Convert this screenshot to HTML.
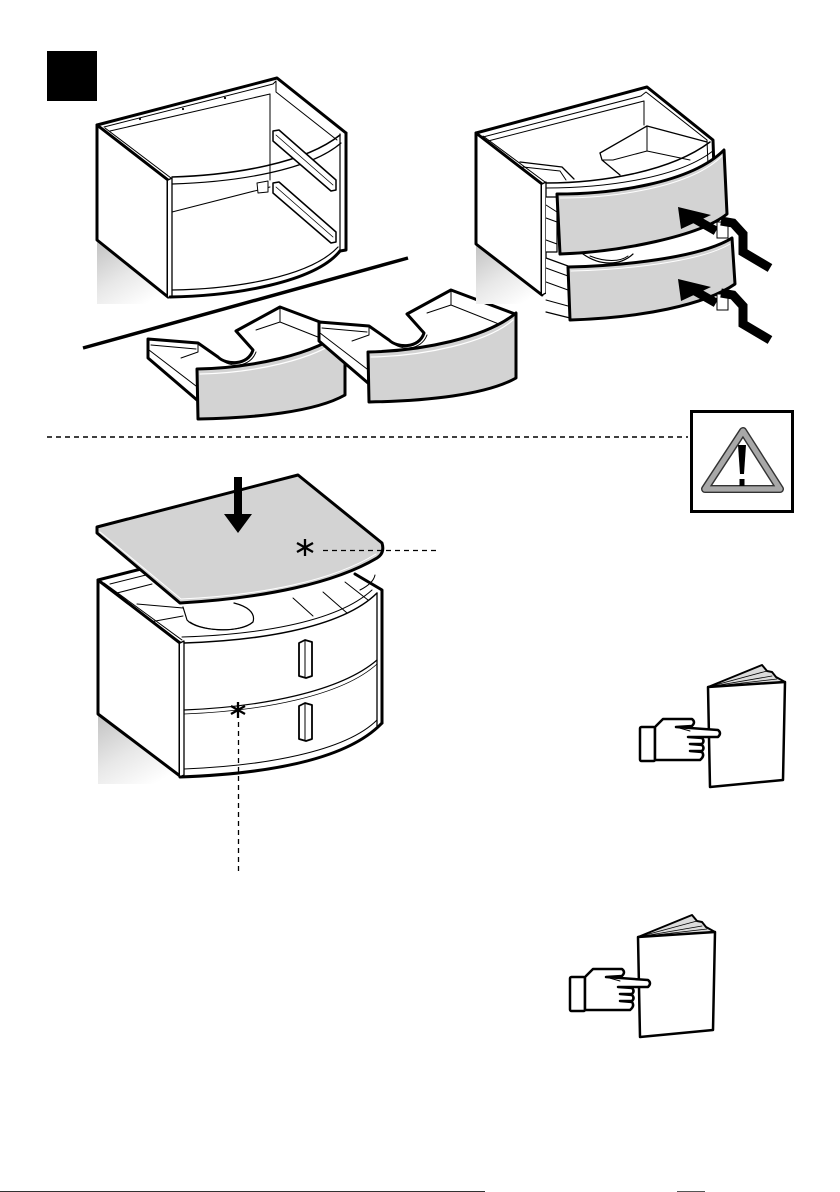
<!DOCTYPE html>
<html><head><meta charset="utf-8">
<style>html,body{margin:0;padding:0;background:#fff}svg{display:block}</style>
</head>
<body>
<svg width="840" height="1192" viewBox="0 0 840 1192" xmlns="http://www.w3.org/2000/svg">
<defs>
<linearGradient id="sh" x1="0" y1="0" x2="0.7" y2="1">
 <stop offset="0" stop-color="#c2c2c2"/><stop offset="0.55" stop-color="#e8e8e8"/><stop offset="1" stop-color="#fff"/>
</linearGradient>
</defs>
<rect width="840" height="1192" fill="#fff"/>
<rect x="47" y="51" width="50" height="50" fill="#000"/>

<!-- ===== Cabinet 1 (empty) ===== -->
<g fill="none" stroke="#000" stroke-linejoin="round" stroke-linecap="round">
 <polygon points="97,242 168,298 168,304 97,304" fill="url(#sh)" stroke="none"/>
 <path d="M97,125 L277,78 L346,133" stroke-width="3"/>
 <path d="M104,127 L273,84" stroke-width="1"/>
 <path d="M110,131 L270,94" stroke-width="1"/>
 <path d="M270,94 L270,180" stroke-width="1"/>
 <path d="M273,84 L276,81 L276,92 L337,140" stroke-width="1"/>
 <path d="M340,134 L340,250" stroke-width="1.2"/>
 <path d="M346,133 L346,250 L340,251" stroke-width="3"/>
 <path d="M97,125 L168,180 L168,297 L97,240 Z" fill="#fff" stroke-width="3"/>
 <path d="M105,128 L171,178" stroke-width="1"/>
 <path d="M168,180 L172,178 L172,296 L168,298" fill="#fff" stroke-width="1.3"/>
 <path d="M172,177 C235,175 305,163 340,135" stroke-width="1.5"/>
 <path d="M172,184 C238,182 310,170 341,143" stroke-width="1.2"/>
 <path d="M172,212 L270,187" stroke-width="1"/>
 <path d="M257,183 L268,181 L268,192 L258,193 Z" fill="#fff" stroke-width="1"/>
 <path d="M273,131 L279,130 L336,180 L336,190 L331,191 L273,141 Z" fill="#fff" stroke-width="1.5"/>
 <path d="M276,135 L333,185" stroke-width="0.8"/>
 <path d="M273,183 L279,182 L336,232 L336,242 L331,243 L273,193 Z" fill="#fff" stroke-width="1.5"/>
 <path d="M276,187 L333,237" stroke-width="0.8"/>
 <path d="M172,290 C235,289 310,277 338,247" stroke-width="1.2"/>
 <path d="M170,297 C235,296 315,282 340,251" stroke-width="3"/>
 <circle cx="140" cy="119" r="1.1" fill="#000" stroke="none"/>
 <circle cx="183" cy="109" r="1.1" fill="#000" stroke="none"/>
 <circle cx="225" cy="98" r="1.1" fill="#000" stroke="none"/>
</g>

<!-- separator thick line -->
<line x1="83" y1="348" x2="408" y2="258" stroke="#000" stroke-width="3.5"/>

<!-- ===== Drawers on floor ===== -->
<g fill="none" stroke="#000" stroke-linejoin="round" stroke-linecap="round">
 <path d="M148,339 L198,343 L218,357 C226,365 248,366 253,350 L236,331 L280,307 L344,331 L344,372 L197,400 L148,358 Z" fill="#fff" stroke-width="3"/>
 <path d="M151,345 L196,349" stroke-width="1"/>
 <path d="M149,350 L196,386" stroke-width="1"/>
 <path d="M198,343 L198,352 L181,358" stroke-width="1"/>
 <path d="M280,307 L280,322 L338,345" stroke-width="1"/>
 <path d="M280,322 L256,330" stroke-width="1"/>
 <path d="M221,359 C229,368 250,368 256,352" stroke-width="1"/>
 <path d="M197,369 C250,368 315,355 345,330 L345,395 C315,412 255,418 198,419 Z" fill="#d3d3d3" stroke-width="3"/>
 <path d="M200,374 C252,373 316,360 342,337" stroke="#fff" stroke-width="1.2"/>
</g>
<g transform="translate(171,-17)" fill="none" stroke="#000" stroke-linejoin="round" stroke-linecap="round">
 <path d="M148,339 L198,343 L218,357 C226,365 248,366 253,350 L236,331 L280,307 L344,331 L344,372 L197,400 L148,358 Z" fill="#fff" stroke-width="3"/>
 <path d="M151,345 L196,349" stroke-width="1"/>
 <path d="M149,350 L196,386" stroke-width="1"/>
 <path d="M198,343 L198,352 L181,358" stroke-width="1"/>
 <path d="M280,307 L280,322 L338,345" stroke-width="1"/>
 <path d="M280,322 L256,330" stroke-width="1"/>
 <path d="M221,359 C229,368 250,368 256,352" stroke-width="1"/>
 <path d="M197,369 C250,368 315,355 345,330 L345,395 C315,412 255,418 198,419 Z" fill="#d3d3d3" stroke-width="3"/>
 <path d="M200,374 C252,373 316,360 342,337" stroke="#fff" stroke-width="1.2"/>
</g>

<!-- ===== Cabinet 2 (drawers inserted) ===== -->
<g fill="none" stroke="#000" stroke-linejoin="round" stroke-linecap="round">
 <polygon points="476,245 542,296 542,304 476,304" fill="url(#sh)" stroke="none"/>
 <path d="M476,133 L647,87 L713,140 L714,170" stroke-width="3"/>
 <path d="M483,137 L641,96" stroke-width="1"/>
 <path d="M488,141 L644,101" stroke-width="1"/>
 <path d="M644,101 L644,125" stroke-width="1"/>
 <path d="M641,96 L646,92 L707,140 L708,165" stroke-width="1"/>
 <path d="M520,162 L562,167 L574,179" stroke-width="1.3"/>
 <path d="M523,167 L560,171 L566,180" stroke-width="1"/>
 <path d="M600,153 L647,126 L707,142" stroke-width="1.3"/>
 <path d="M600,153 L602,160 L620,175" stroke-width="1.3"/>
 <path d="M602,160 L613,160 L647,151 L690,160" stroke-width="1"/>
 <path d="M647,126 L647,151" stroke-width="1"/>
 <path d="M476,133 L542,184 L542,295 L476,244 Z" fill="#fff" stroke-width="3"/>
 <path d="M483,136 L545,182" stroke-width="1"/>
 <path d="M542,184 L546,182 L546,293 L542,295" fill="#fff" stroke-width="1.3"/>
 <path d="M546,183 C600,183 670,172 710,142" stroke-width="1.5"/>
 <path d="M546,188 C605,188 680,178 714,150" stroke-width="1"/>
 <path d="M546,197 L557,197 L557,252 L546,252" fill="#fff" stroke-width="1.2"/>
 <path d="M546,205 L557,212 M546,218 L557,222 M546,240 L557,244" stroke-width="1"/>
 <path d="M546,258 L568,266 L570,318 L546,312" fill="#fff" stroke-width="1.2"/>
 <path d="M546,268 L568,276 M546,282 L568,290 M546,300 L568,306" stroke-width="1"/>
 <path d="M583,254 C600,266 620,266 633,254" stroke-width="1.2"/>
 <path d="M590,256 C605,262 620,262 628,256" stroke-width="1"/>
 <path d="M557,194 C610,194 690,184 724,150 L727,214 C700,236 620,252 560,254 Z" fill="#d3d3d3" stroke-width="3"/>
 <path d="M560,198 C612,198 690,188 722,156" stroke="#fff" stroke-width="1"/>
 <path d="M568,267 C620,266 700,258 732,238 L735,284 C705,305 640,318 570,320 Z" fill="#d3d3d3" stroke-width="3"/>
 <path d="M571,271 C622,270 700,262 730,244" stroke="#fff" stroke-width="1"/>
</g>
<!-- arrows -->
<g>
 <polygon points="678,207 711,215 681,229" fill="#000"/>
 <line x1="695" y1="219" x2="716" y2="231" stroke="#000" stroke-width="9"/>
 <rect x="717" y="222" width="11" height="16" fill="#fff" stroke="#000" stroke-width="1"/>
 <polyline points="721,221 733,223 743,234 743,252 770,268" fill="none" stroke="#000" stroke-width="9" stroke-linejoin="miter"/>
</g>
<g transform="translate(0,72)">
 <polygon points="678,207 711,215 681,229" fill="#000"/>
 <line x1="695" y1="219" x2="716" y2="231" stroke="#000" stroke-width="9"/>
 <rect x="717" y="222" width="11" height="16" fill="#fff" stroke="#000" stroke-width="1"/>
 <polyline points="721,221 733,223 743,234 743,252 770,268" fill="none" stroke="#000" stroke-width="9" stroke-linejoin="miter"/>
</g>

<!-- dashed separator -->
<line x1="47" y1="437" x2="688" y2="437" stroke="#000" stroke-width="1.4" stroke-dasharray="5 4"/>

<!-- warning box -->
<rect x="691.5" y="411.5" width="101" height="100" fill="#fff" stroke="#000" stroke-width="3"/>
<path d="M743,431 L780,489 L705,489 Z" fill="#fff" stroke="#333" stroke-width="8" stroke-linejoin="round"/>
<path d="M743,431 L780,489 L705,489 Z" fill="none" stroke="#a8a8a8" stroke-width="5.2" stroke-linejoin="round"/>
<path d="M738,445 L746,445 L744,474 L740,474 Z" fill="#000"/>
<rect x="739.5" y="479" width="5" height="7" fill="#000"/>

<!-- ===== Cabinet 3 (with top) ===== -->
<g fill="none" stroke="#000" stroke-linejoin="round" stroke-linecap="round">
 <polygon points="98,715 180,777 180,784 98,784" fill="url(#sh)" stroke="none"/>
 <path d="M98,580 L145,568" stroke-width="3"/>
 <path d="M355,574 L382,590 L382,723" stroke-width="3"/>
 <path d="M377,593 L377,726" stroke-width="1.3"/>
 <path d="M110,584 L150,574" stroke-width="1"/>
 <path d="M117,593 L152,584" stroke-width="1"/>
 <path d="M137,604 L183,608" stroke-width="1"/>
 <path d="M150,622 L183,616" stroke-width="1"/>
 <path d="M183,607 L187,620 C196,631 240,634 253,622 C256,612 246,606 234,603" stroke-width="1.2"/>
 <path d="M190,622 C205,632 240,633 253,622" stroke-width="1"/>
 <path d="M293,598 L313,616" stroke-width="1"/>
 <path d="M323,592 L347,613" stroke-width="1"/>
 <path d="M345,582 L368,600" stroke-width="1"/>
 <path d="M360,590 C370,585 374,580 375,575" stroke-width="1"/>
 <path d="M98,580 L180,643 L180,776 L98,714 Z" fill="#fff" stroke-width="3"/>
 <path d="M104,583 L182,640" stroke-width="1"/>
 <path d="M180,643 L184,641 L184,775 L180,777" fill="#fff" stroke-width="1.3"/>
 <path d="M184,643 C250,641 340,630 377,593" stroke-width="1.5"/>
 <path d="M182,637 C250,635 335,624 372,590" stroke-width="1"/>
 <path d="M184,710 C260,707 340,692 377,660" stroke-width="1.2"/>
 <path d="M184,714 C262,711 342,696 377,664" stroke-width="0.8"/>
 <path d="M184,769 C262,766 345,752 377,720" stroke-width="1"/>
 <path d="M180,777 C260,774 345,762 382,723" stroke-width="3"/>
 <path d="M299,643 L305,640 L312,642 L312,676 L306,678 L299,676 Z" fill="#fff" stroke-width="1.8"/>
 <path d="M305,641 L305,678" stroke-width="1"/>
 <path d="M299,706 L305,703 L312,705 L312,739 L306,741 L299,739 Z" fill="#fff" stroke-width="1.8"/>
 <path d="M305,704 L305,741" stroke-width="1"/>
 <path d="M97,527 L298,475 L382,543 Q385,553 377,558 C335,583 265,598 180,603 L97,533 Z" fill="#d3d3d3" stroke-width="3"/>
 <path d="M100,532 L181,599 C262,595 332,581 376,554" stroke="#fff" stroke-width="1"/>
</g>
<rect x="234" y="477" width="8" height="40" fill="#000"/>
<polygon points="224,514 252,514 238,533" fill="#000"/>
<g stroke="#000" stroke-width="2.3" stroke-linecap="butt">
 <line x1="305" y1="539" x2="305" y2="556"/>
 <line x1="297" y1="543" x2="313" y2="552"/>
 <line x1="297" y1="552" x2="313" y2="543"/>
 <line x1="238" y1="702" x2="238" y2="718"/>
 <line x1="231" y1="706" x2="245" y2="714"/>
 <line x1="231" y1="714" x2="245" y2="706"/>
</g>
<line x1="323" y1="550.5" x2="437" y2="550.5" stroke="#000" stroke-width="1.3" stroke-dasharray="5 4"/>
<line x1="238.5" y1="722" x2="238.5" y2="874" stroke="#000" stroke-width="1.3" stroke-dasharray="5 4"/>

<!-- ===== Hand + book 1 ===== -->
<g fill="none" stroke="#000" stroke-linejoin="round" stroke-linecap="round">
 <path d="M708,687 L762,665 L767,671 L772,672 L776,677 L785,682 Z" fill="#dcdcdc" stroke-width="2"/>
 <path d="M708,687 L767,671 M708,687 L772,676 M708,687 L777,679" stroke-width="0.8"/>
 <path d="M708,687 L785,682 L783,780 L710,787 Z" fill="#fff" stroke-width="2.5"/>
 <rect x="640" y="727" width="15" height="34" rx="1.5" fill="#fff" stroke-width="2.5"/>
 <path d="M655,727 L663,719 L692,719 Q696,722 692,726 L676,727 L718,730 Q722,733 718,737 L688,737 L702,738 Q705,741 702,744 L690,744 L702,745 Q705,748 702,751 L690,751 L702,752 Q705,756 700,760 L655,760 Z" fill="#fff" stroke-width="2.5"/>
 <path d="M676,727 L690,731" stroke-width="1"/>
</g>
<!-- ===== Hand + book 2 ===== -->
<g transform="translate(-70,250)" fill="none" stroke="#000" stroke-linejoin="round" stroke-linecap="round">
 <path d="M708,687 L762,665 L767,671 L772,672 L776,677 L785,682 Z" fill="#dcdcdc" stroke-width="2"/>
 <path d="M708,687 L767,671 M708,687 L772,676 M708,687 L777,679" stroke-width="0.8"/>
 <path d="M708,687 L785,682 L783,780 L710,787 Z" fill="#fff" stroke-width="2.5"/>
 <rect x="640" y="727" width="15" height="34" rx="1.5" fill="#fff" stroke-width="2.5"/>
 <path d="M655,727 L663,719 L692,719 Q696,722 692,726 L676,727 L718,730 Q722,733 718,737 L688,737 L702,738 Q705,741 702,744 L690,744 L702,745 Q705,748 702,751 L690,751 L702,752 Q705,756 700,760 L655,760 Z" fill="#fff" stroke-width="2.5"/>
 <path d="M676,727 L690,731" stroke-width="1"/>
</g>

<rect x="0" y="1191" width="485" height="1" fill="#333"/>
<rect x="677" y="1191" width="28" height="1" fill="#555"/>
</svg>
</body></html>
